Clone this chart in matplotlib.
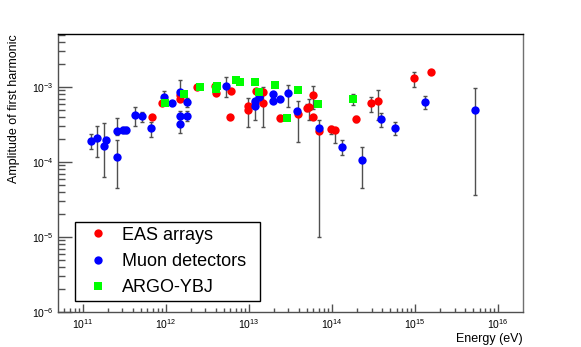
import matplotlib
matplotlib.use("Agg")
import matplotlib.pyplot as plt
import numpy as np
from matplotlib.ticker import LogLocator, FixedLocator, NullFormatter

plt.rcParams['font.family'] = ['Liberation Sans', 'DejaVu Sans']
plt.rcParams['mathtext.fontset'] = 'custom'
plt.rcParams['mathtext.rm'] = 'Liberation Sans'
plt.rcParams['mathtext.it'] = 'Liberation Sans'

# EAS arrays
eas_e = [6.9e11, 9.1e11, 1.5e12, 1.5e12, 2.38e12, 3.87e12, 3.98e12, 6.15e12, 5.98e12,
         9.9e12, 9.9e12, 1.19e13, 1.22e13, 1.47e13, 1.47e13, 2.34e13, 3.95e13, 4.97e13,
         5.35e13, 5.93e13, 5.93e13, 6.92e13, 9.77e13, 1.09e14, 1.95e14, 2.95e14, 3.6e14,
         9.75e14, 1.57e15]
eas_a = [4.0e-4, 6.1e-4, 7.8e-4, 6.9e-4, 9.9e-4, 1.03e-3, 8.4e-4, 8.85e-4, 4.0e-4,
         5.6e-4, 5.0e-4, 6.07e-4, 8.85e-4, 8.6e-4, 6.07e-4, 3.83e-4, 4.33e-4, 5.3e-4,
         5.41e-4, 7.75e-4, 3.98e-4, 2.61e-4, 2.75e-4, 2.65e-4, 3.74e-4, 6.07e-4, 6.44e-4,
         1.31e-3, 1.57e-3]
eas_lo = [4.0e-4, 5.8e-4, 7.8e-4, 6.9e-4, 9.9e-4, 1.03e-3, 8.4e-4, 8.85e-4, 4.0e-4,
          5.6e-4, 2.96e-4, 5.5e-4, 8.85e-4, 2.96e-4, 6.07e-4, 3.5e-4, 1.87e-4, 4.8e-4,
          3.6e-4, 5.1e-4, 3.98e-4, 2.61e-4, 2.4e-4, 1.79e-4, 3.4e-4, 4.6e-4, 3.63e-4,
          9.9e-4, 1.57e-3]
eas_hi = [4.0e-4, 6.4e-4, 7.8e-4, 6.9e-4, 9.9e-4, 1.03e-3, 8.4e-4, 8.85e-4, 4.0e-4,
          7.07e-4, 5.0e-4, 6.5e-4, 8.85e-4, 1.01e-3, 6.07e-4, 4.2e-4, 6.5e-4, 6.0e-4,
          6.9e-4, 1.04e-3, 3.98e-4, 2.61e-4, 3.0e-4, 2.65e-4, 4.1e-4, 7.43e-4, 9.1e-4,
          1.59e-3, 1.57e-3]

# Muon detectors
muon_e = [1.26e11, 1.47e11, 1.82e11, 1.9e11, 2.6e11, 2.6e11, 3.02e11, 3.31e11, 4.21e11,
          5.19e11, 6.6e11, 9.55e11, 1.2e12, 1.5e12, 1.5e12, 1.5e12, 1.8e12, 1.8e12,
          5.25e12, 1.19e13, 1.19e13, 1.32e13, 1.98e13, 1.98e13, 2.34e13, 2.97e13, 3.77e13,
          6.92e13, 1.31e14, 2.31e14, 3.92e14, 5.72e14, 1.33e15, 5.23e15]
muon_a = [1.92e-4, 2.11e-4, 1.65e-4, 1.96e-4, 2.57e-4, 1.18e-4, 2.67e-4, 2.67e-4, 4.24e-4,
          4.1e-4, 2.81e-4, 7.3e-4, 6.07e-4, 8.65e-4, 4.1e-4, 3.24e-4, 4.1e-4, 6.25e-4,
          1.03e-3, 6.5e-4, 5.58e-4, 7.43e-4, 8.0e-4, 6.5e-4, 6.98e-4, 8.24e-4, 4.74e-4,
          2.87e-4, 1.6e-4, 1.05e-4, 3.71e-4, 2.87e-4, 6.25e-4, 4.89e-4]
muon_lo = [1.49e-4, 1.16e-4, 6.4e-5, 1.96e-4, 2.3e-4, 4.5e-5, 2.45e-4, 2.45e-4, 3.0e-4,
           3.43e-4, 2.16e-4, 7.3e-4, 5.9e-4, 8.65e-4, 3.5e-4, 2.44e-4, 3.5e-4, 5.5e-4,
           7.4e-4, 6.5e-4, 3.63e-4, 7.43e-4, 8.0e-4, 6.5e-4, 6.98e-4, 5.5e-4, 4.74e-4,
           1.0e-5, 1.24e-4, 4.5e-5, 2.9e-4, 2.3e-4, 5.1e-4, 3.6e-5]
muon_hi = [2.36e-4, 3.05e-4, 3.31e-4, 1.96e-4, 3.86e-4, 1.96e-4, 2.9e-4, 2.9e-4, 5.5e-4,
           4.66e-4, 3.43e-4, 8.9e-4, 6.3e-4, 1.23e-3, 4.8e-4, 3.24e-4, 4.8e-4, 7.2e-4,
           1.35e-3, 6.5e-4, 5.58e-4, 7.43e-4, 8.0e-4, 6.5e-4, 6.98e-4, 1.08e-3, 4.74e-4,
           3.6e-4, 1.96e-4, 1.6e-4, 4.5e-4, 3.4e-4, 7.6e-4, 9.6e-4]

# ARGO-YBJ
argo_e = [9.73e11, 1.64e12, 2.61e12, 4.13e12, 4.0e12, 6.92e12, 7.84e12, 1.19e13,
          1.32e13, 2.07e13, 2.86e13, 3.88e13, 6.87e13, 1.81e14]
argo_a = [6.12e-4, 8.0e-4, 9.9e-4, 1.03e-3, 9.4e-4, 1.24e-3, 1.17e-3, 1.17e-3,
          8.65e-4, 1.07e-3, 3.83e-4, 9.2e-4, 5.93e-4, 6.92e-4]
argo_lo = [6.12e-4, 8.0e-4, 9.9e-4, 1.03e-3, 9.4e-4, 1.24e-3, 1.17e-3, 1.17e-3,
           8.65e-4, 1.07e-3, 3.83e-4, 9.2e-4, 5.93e-4, 5.75e-4]
argo_hi = [6.12e-4, 8.0e-4, 9.9e-4, 1.03e-3, 9.4e-4, 1.24e-3, 1.17e-3, 1.17e-3,
           8.65e-4, 1.07e-3, 3.83e-4, 9.2e-4, 5.93e-4, 8.2e-4]

x_ticks = [1e11, 1e12, 1e13, 1e14, 1e15, 1e16]
x_labels = [r'$10^{11}$', r'$10^{12}$', r'$10^{13}$', r'$10^{14}$', r'$10^{15}$', r'$10^{16}$']
y_ticks = [1e-6, 1e-5, 1e-4, 1e-3]
y_labels = [r'$10^{-6}$', r'$10^{-5}$', r'$10^{-4}$', r'$10^{-3}$']

fig = plt.figure(figsize=(5.81, 3.47), dpi=100)
ax = fig.add_axes([0.0998, 0.1009, 0.8, 0.8011])


def draw(e, a, lo, hi, color, marker, size, label):
    e = np.array(e)
    a = np.array(a)
    yerr = [a - np.array(lo), np.array(hi) - a]
    ax.errorbar(e, a, yerr=yerr, fmt='none', ecolor='#505050', elinewidth=1.0,
                capsize=1.2, capthick=1.0, zorder=2)
    ax.plot(e, a, linestyle='none', marker=marker, color=color, markersize=size,
            markeredgewidth=0, label=label, zorder=3)


draw(eas_e, eas_a, eas_lo, eas_hi, '#ff0000', 'o', 6, 'EAS arrays')
draw(muon_e, muon_a, muon_lo, muon_hi, '#0000ff', 'o', 6, 'Muon detectors')
draw(argo_e, argo_a, argo_lo, argo_hi, '#00ff00', 's', 5.2, 'ARGO-YBJ')

ax.set_xscale('log')
ax.set_yscale('log')
ax.set_xlim(5.05e10, 1.98e16)
ax.set_ylim(1e-6, 5.1e-3)

ax.xaxis.set_major_locator(FixedLocator(x_ticks))
ax.set_xticklabels(x_labels)
ax.yaxis.set_major_locator(FixedLocator(y_ticks))
ax.set_yticklabels(y_labels)
ax.xaxis.set_minor_locator(LogLocator(base=10, subs=np.arange(2, 10), numticks=20))
ax.yaxis.set_minor_locator(LogLocator(base=10, subs=np.arange(2, 10), numticks=20))
ax.xaxis.set_minor_formatter(NullFormatter())
ax.yaxis.set_minor_formatter(NullFormatter())

ax.tick_params(axis='both', which='both', direction='in', top=False, right=False,
               labelsize=7.5, colors='#505050', labelcolor='black')
ax.tick_params(axis='y', which='major', length=10, width=1, pad=3)
ax.tick_params(axis='y', which='minor', length=5, width=1)
ax.tick_params(axis='x', which='major', length=5.5, width=1, pad=4)
ax.tick_params(axis='x', which='minor', length=3, width=1)
for s in ax.spines.values():
    s.set_linewidth(1.0)
ax.spines['bottom'].set_color('#505050')
ax.spines['left'].set_color('#505050')
ax.spines['right'].set_color('#707070')

ax.set_xlabel('Energy (eV)', fontsize=9, loc='right', labelpad=1)
ax.set_ylabel('Amplitude of first harmonic', fontsize=9, loc='top', labelpad=9)

leg = ax.legend(loc='lower left', bbox_to_anchor=(0.0366, 0.0396, 0.398, 0.28),
                mode='expand', borderaxespad=0,
                fontsize=13, frameon=True, fancybox=False, framealpha=1,
                edgecolor='black', labelspacing=0.52, borderpad=0.25,
                handlelength=2.0, handletextpad=0.35, markerscale=1.0)
leg.get_frame().set_linewidth(1.0)

fig.savefig('out.png', dpi=100)
